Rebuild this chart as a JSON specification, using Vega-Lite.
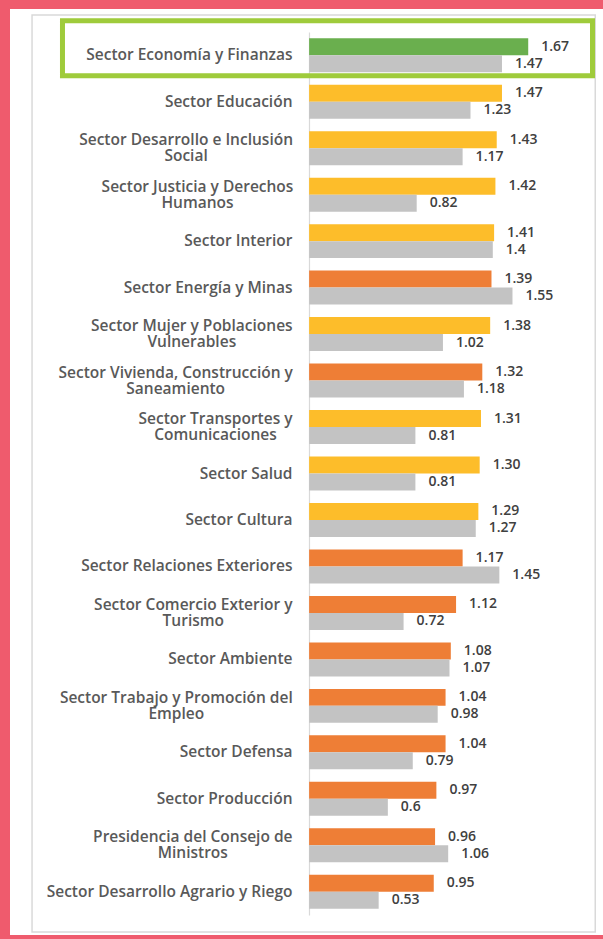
{
  "$schema": "https://vega.github.io/schema/vega-lite/v6.json",
  "width": 593,
  "height": 926,
  "autosize": "none",
  "padding": {"left": 10, "top": 9, "right": 0, "bottom": 4},
  "background": "#ef5b6d",
  "config": {"view": {"fill": "white", "stroke": null}, "font": "Open Sans"},
  "data": {"values": [
    {"sector": "Sector Economía y Finanzas", "serie": "Actual", "grupo": "Verde", "valor": 1.67},
    {"sector": "Sector Economía y Finanzas", "serie": "Anterior", "grupo": "Anterior", "valor": 1.47},
    {"sector": "Sector Educación", "serie": "Actual", "grupo": "Amarillo", "valor": 1.47},
    {"sector": "Sector Educación", "serie": "Anterior", "grupo": "Anterior", "valor": 1.23},
    {"sector": "Sector Desarrollo e Inclusión|Social", "serie": "Actual", "grupo": "Amarillo", "valor": 1.43},
    {"sector": "Sector Desarrollo e Inclusión|Social", "serie": "Anterior", "grupo": "Anterior", "valor": 1.17},
    {"sector": "Sector Justicia y Derechos|Humanos", "serie": "Actual", "grupo": "Amarillo", "valor": 1.42},
    {"sector": "Sector Justicia y Derechos|Humanos", "serie": "Anterior", "grupo": "Anterior", "valor": 0.82},
    {"sector": "Sector Interior", "serie": "Actual", "grupo": "Amarillo", "valor": 1.41},
    {"sector": "Sector Interior", "serie": "Anterior", "grupo": "Anterior", "valor": 1.4},
    {"sector": "Sector Energía y Minas", "serie": "Actual", "grupo": "Naranja", "valor": 1.39},
    {"sector": "Sector Energía y Minas", "serie": "Anterior", "grupo": "Anterior", "valor": 1.55},
    {"sector": "Sector Mujer y Poblaciones|Vulnerables", "serie": "Actual", "grupo": "Amarillo", "valor": 1.38},
    {"sector": "Sector Mujer y Poblaciones|Vulnerables", "serie": "Anterior", "grupo": "Anterior", "valor": 1.02},
    {"sector": "Sector Vivienda, Construcción y|Saneamiento", "serie": "Actual", "grupo": "Naranja", "valor": 1.32},
    {"sector": "Sector Vivienda, Construcción y|Saneamiento", "serie": "Anterior", "grupo": "Anterior", "valor": 1.18},
    {"sector": "Sector Transportes y|Comunicaciones", "serie": "Actual", "grupo": "Amarillo", "valor": 1.31},
    {"sector": "Sector Transportes y|Comunicaciones", "serie": "Anterior", "grupo": "Anterior", "valor": 0.81},
    {"sector": "Sector Salud", "serie": "Actual", "grupo": "Amarillo", "valor": 1.30},
    {"sector": "Sector Salud", "serie": "Anterior", "grupo": "Anterior", "valor": 0.81},
    {"sector": "Sector Cultura", "serie": "Actual", "grupo": "Amarillo", "valor": 1.29},
    {"sector": "Sector Cultura", "serie": "Anterior", "grupo": "Anterior", "valor": 1.27},
    {"sector": "Sector Relaciones Exteriores", "serie": "Actual", "grupo": "Naranja", "valor": 1.17},
    {"sector": "Sector Relaciones Exteriores", "serie": "Anterior", "grupo": "Anterior", "valor": 1.45},
    {"sector": "Sector Comercio Exterior y|Turismo", "serie": "Actual", "grupo": "Naranja", "valor": 1.12},
    {"sector": "Sector Comercio Exterior y|Turismo", "serie": "Anterior", "grupo": "Anterior", "valor": 0.72},
    {"sector": "Sector Ambiente", "serie": "Actual", "grupo": "Naranja", "valor": 1.08},
    {"sector": "Sector Ambiente", "serie": "Anterior", "grupo": "Anterior", "valor": 1.07},
    {"sector": "Sector Trabajo y Promoción del|Empleo", "serie": "Actual", "grupo": "Naranja", "valor": 1.04},
    {"sector": "Sector Trabajo y Promoción del|Empleo", "serie": "Anterior", "grupo": "Anterior", "valor": 0.98},
    {"sector": "Sector Defensa", "serie": "Actual", "grupo": "Naranja", "valor": 1.04},
    {"sector": "Sector Defensa", "serie": "Anterior", "grupo": "Anterior", "valor": 0.79},
    {"sector": "Sector Producción", "serie": "Actual", "grupo": "Naranja", "valor": 0.97},
    {"sector": "Sector Producción", "serie": "Anterior", "grupo": "Anterior", "valor": 0.6},
    {"sector": "Presidencia del Consejo de|Ministros", "serie": "Actual", "grupo": "Naranja", "valor": 0.96},
    {"sector": "Presidencia del Consejo de|Ministros", "serie": "Anterior", "grupo": "Anterior", "valor": 1.06},
    {"sector": "Sector Desarrollo Agrario y Riego", "serie": "Actual", "grupo": "Naranja", "valor": 0.95},
    {"sector": "Sector Desarrollo Agrario y Riego", "serie": "Anterior", "grupo": "Anterior", "valor": 0.53}
  ]},
  "layer": [
    {
      "mark": {"type": "bar"},
      "encoding": {
        "x": {"field": "valor", "type": "quantitative", "scale": {"domain": [-2.28, 2.24], "nice": false, "zero": false}, "axis": null},
        "y": {"field": "sector", "type": "nominal", "sort": null,
              "scale": {"type": "band", "range": [23, 906], "paddingInner": 0, "paddingOuter": 0},
              "axis": {"title": null, "offset": -299, "ticks": false, "tickSize": 0,
                       "domainColor": "#d9d9d9", "domainWidth": 1.2,
                       "labelExpr": "split(datum.label, '|')", "labelLineHeight": 16, "labelBaseline": "middle",
                       "labelFont": "Open Sans", "labelFontSize": 15.5, "labelFontWeight": 600, "labelColor": "#595959", "labelLimit": 400,
                       "labelAlign": {"condition": {"test": "indexof(datum.value, '|') >= 0", "value": "center"}, "value": "right"},
                       "labelOffset": {"condition": {"test": "indexof(datum.value, '|') >= 0", "value": -8}, "value": 0},
                       "labelPadding": {"condition": [
                         {"test": "datum.value == 'Sector Desarrollo e Inclusión|Social'", "value": 123.4},
                         {"test": "datum.value == 'Sector Justicia y Derechos|Humanos'", "value": 112},
                         {"test": "datum.value == 'Sector Mujer y Poblaciones|Vulnerables'", "value": 117.7},
                         {"test": "datum.value == 'Sector Vivienda, Construcción y|Saneamiento'", "value": 133.8},
                         {"test": "datum.value == 'Sector Transportes y|Comunicaciones'", "value": 94},
                         {"test": "datum.value == 'Sector Comercio Exterior y|Turismo'", "value": 116.2},
                         {"test": "datum.value == 'Sector Trabajo y Promoción del|Empleo'", "value": 133.2},
                         {"test": "datum.value == 'Presidencia del Consejo de|Ministros'", "value": 116.7}
                       ], "value": 17}}},
        "yOffset": {"field": "serie", "type": "nominal", "scale": {"domain": ["Actual", "Anterior"], "paddingInner": 0, "paddingOuter": 0.368}},
        "color": {"field": "grupo", "type": "nominal", "legend": null,
                  "scale": {"domain": ["Verde", "Amarillo", "Naranja", "Anterior"], "range": ["#6aaf4e", "#fdbd2a", "#ee7e36", "#c3c3c3"]}}
      }
    },
    {
      "transform": [{"filter": "datum.serie == 'Actual'"}],
      "mark": {"type": "text", "align": "left", "baseline": "middle", "dx": 13, "fontSize": 14, "fontWeight": 600, "color": "#404040", "font": "Open Sans"},
      "encoding": {
        "x": {"field": "valor", "type": "quantitative"},
        "y": {"field": "sector", "type": "nominal", "sort": null},
        "yOffset": {"field": "serie", "type": "nominal"},
        "text": {"field": "valor", "type": "quantitative", "format": ".2f"}
      }
    },
    {
      "transform": [{"filter": "datum.serie == 'Anterior'"}],
      "mark": {"type": "text", "align": "left", "baseline": "middle", "dx": 13, "fontSize": 14, "fontWeight": 600, "color": "#404040", "font": "Open Sans"},
      "encoding": {
        "x": {"field": "valor", "type": "quantitative"},
        "y": {"field": "sector", "type": "nominal", "sort": null},
        "yOffset": {"field": "serie", "type": "nominal"},
        "text": {"field": "valor", "type": "quantitative", "format": ".3~g"}
      }
    },
    {
      "data": {"values": [{}]},
      "mark": {"type": "bar", "filled": false, "stroke": "#d9d9d9", "strokeWidth": 1.5, "height": {"band": 19.73}},
      "encoding": {
        "x": {"datum": -2.112, "type": "quantitative"},
        "x2": {"datum": 2.181},
        "y": {"datum": "Sector Salud", "type": "nominal"}
      }
    },
    {
      "data": {"values": [{}]},
      "mark": {"type": "bar", "filled": false, "stroke": "#9fcb3b", "strokeWidth": 5, "height": {"band": 1.18}, "yOffset": -7},
      "encoding": {
        "x": {"datum": -1.88, "type": "quantitative"},
        "x2": {"datum": 2.16},
        "y": {"datum": "Sector Economía y Finanzas", "type": "nominal"}
      }
    }
  ]
}
